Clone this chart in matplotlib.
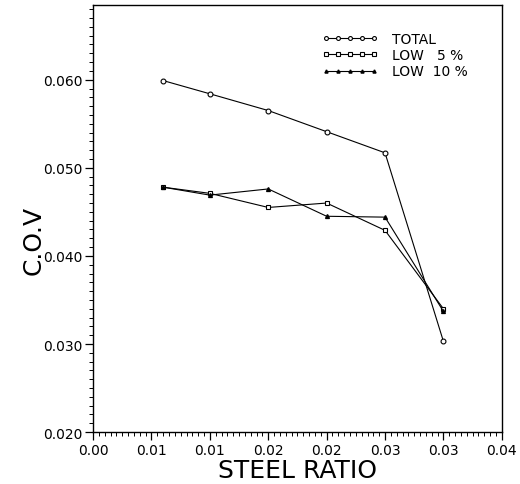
import matplotlib
matplotlib.use('Agg')
import matplotlib.pyplot as plt
from matplotlib.ticker import MultipleLocator

# data
steel_ratio = [0.006, 0.010, 0.015, 0.020, 0.025, 0.030]
cov_total = [0.0599, 0.0584, 0.0565, 0.0541, 0.0517, 0.0303]
cov_low5 = [0.0478, 0.0471, 0.0455, 0.0460, 0.0429, 0.0340]
cov_low10 = [0.0478, 0.0469, 0.0476, 0.0445, 0.0444, 0.0337]

x_ticks = [0.000, 0.005, 0.010, 0.015, 0.020, 0.025, 0.030, 0.035]
x_ticklabels = ['0.00', '0.01', '0.01', '0.02', '0.02', '0.03', '0.03', '0.04']
y_ticks = [0.020, 0.030, 0.040, 0.050, 0.060]
y_ticklabels = ['0.020', '0.030', '0.040', '0.050', '0.060']

fig = plt.figure(figsize=(5.2, 4.85), dpi=100)
ax = fig.add_axes([0.179, 0.107, 0.786, 0.881])

ax.plot(steel_ratio, cov_total, color='black', lw=0.8, marker='o', ms=3.5,
        mfc='white', mec='black', mew=0.8, label='TOTAL')
ax.plot(steel_ratio, cov_low5, color='black', lw=0.8, marker='s', ms=3,
        mfc='white', mec='black', mew=0.8, label='LOW   5 %')
ax.plot(steel_ratio, cov_low10, color='black', lw=0.8, marker='^', ms=2.8,
        mfc='black', mec='black', label='LOW  10 %')

ax.set_xlim(0.0, 0.035)
ax.set_ylim(0.020, 0.0685)
ax.set_xticks(x_ticks)
ax.set_xticklabels(x_ticklabels)
ax.set_yticks(y_ticks)
ax.set_yticklabels(y_ticklabels)
ax.xaxis.set_minor_locator(MultipleLocator(0.0005))
ax.yaxis.set_minor_locator(MultipleLocator(0.001))
ax.tick_params(which='major', direction='out', length=6, width=0.9,
               labelsize=10, pad=1.5)
ax.tick_params(which='minor', direction='out', length=3, width=0.7)
for s in ax.spines.values():
    s.set_linewidth(1.0)

ax.set_xlabel('STEEL RATIO', fontsize=18, labelpad=1)
ax.set_ylabel('C.O.V', fontsize=18)
ax.yaxis.set_label_coords(-0.115, 0.45)

ax.legend(loc='upper left', bbox_to_anchor=(0.53, 0.965), frameon=False,
          numpoints=5, handlelength=4.0, handletextpad=1.0, fontsize=10,
          labelspacing=0.15, markerscale=0.8)

fig.savefig('out.png', dpi=100)
